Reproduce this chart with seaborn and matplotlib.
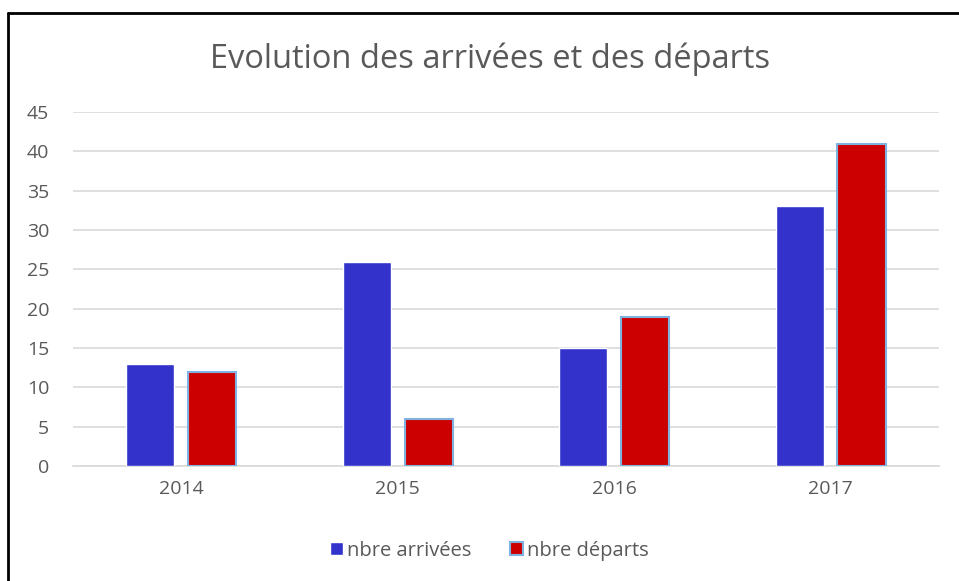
import pandas as pd
import matplotlib.pyplot as plt
import seaborn as sns
from matplotlib.patches import Rectangle

# Chart data
years = ["2014", "2015", "2016", "2017"]
arrivees = [13, 26, 15, 33]
departs = [12, 6, 19, 41]
series_names = ["nbre arrivées", "nbre départs"]

df = pd.DataFrame({
    "annee": years * 2,
    "valeur": arrivees + departs,
    "serie": [series_names[0]] * len(years) + [series_names[1]] * len(years),
})

blue = "#3333CC"
red = "#CC0000"
edge_blue = "#7FB2E0"
text_gray = "#595959"

sns.set_theme(style="white")
plt.rcParams["font.family"] = ["Open Sans", "DejaVu Sans"]

fig = plt.figure(figsize=(9.59, 5.81), dpi=100)
ax = fig.add_axes([0.0761, 0.198, 0.903, 0.609])

sns.barplot(data=df, x="annee", y="valeur", hue="serie", order=years,
            hue_order=series_names, palette=[blue, red], width=0.57, gap=0.22,
            saturation=1, legend=False, ax=ax, zorder=3)

# light blue outline on the red bars, like the original
for patch in ax.containers[1]:
    patch.set_edgecolor(edge_blue)
    patch.set_linewidth(1.5)

ax.set_ylim(0, 45)
ax.set_xlim(-0.5, 3.5)
ax.set_yticks(range(0, 46, 5))
ax.yaxis.grid(True, color="#D9D9D9", linewidth=1.2, zorder=0)
ax.set_axisbelow(True)
for side in ["top", "right", "left"]:
    ax.spines[side].set_visible(False)
ax.spines["bottom"].set_color("#D9D9D9")
ax.spines["bottom"].set_linewidth(1.2)
ax.tick_params(axis="both", length=0, labelsize=14, colors=text_gray)
ax.tick_params(axis="x", pad=10)
ax.tick_params(axis="y", pad=17)
ax.set_xlabel("")
ax.set_ylabel("")

fig.text(0.511, 0.898, "Evolution des arrivées et des départs", ha="center",
         va="center", fontsize=23.5, color=text_gray)

handles = [Rectangle((0, 0), 1, 1, facecolor=blue),
           Rectangle((0, 0), 1, 1, facecolor=red, edgecolor=edge_blue, linewidth=1.5)]
fig.legend(handles, series_names, loc="center", bbox_to_anchor=(0.51, 0.052),
           ncol=2, frameon=False, fontsize=14.5, labelcolor=text_gray,
           handlelength=0.65, handleheight=0.65, handletextpad=0.2, columnspacing=1.9)

# black frame on top and left, as in the screenshot
fig.add_artist(plt.Line2D([0.0085, 0.0085], [0, 0.978], color="black", linewidth=2,
                          transform=fig.transFigure))
fig.add_artist(plt.Line2D([0.0085, 1.0], [0.978, 0.978], color="black", linewidth=2,
                          transform=fig.transFigure))

fig.savefig("out.png", dpi=100)
